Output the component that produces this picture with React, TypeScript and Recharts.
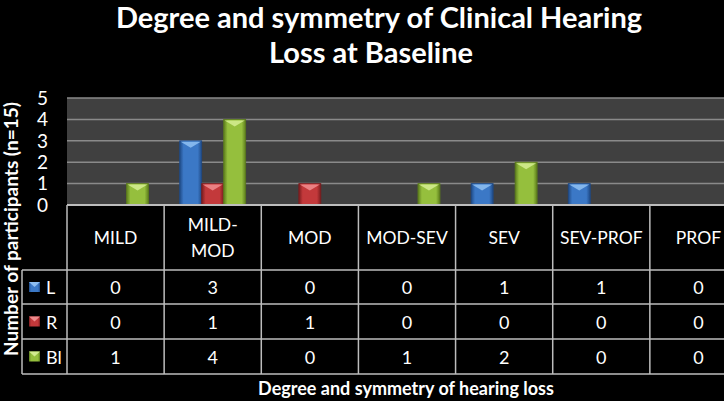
import { BarChart, Bar, XAxis, YAxis, CartesianGrid } from 'recharts';

// categories and table header lines
const categories = ['MILD', 'MILD-MOD', 'MOD', 'MOD-SEV', 'SEV', 'SEV-PROF', 'PROF'];
const headerLines = [['MILD'], ['MILD-', 'MOD'], ['MOD'], ['MOD-SEV'], ['SEV'], ['SEV-PROF'], ['PROF']];

// participants per category
const leftValues = [0, 3, 0, 0, 1, 1, 0];
const rightValues = [0, 1, 1, 0, 0, 0, 0];
const bilateralValues = [1, 4, 0, 1, 2, 0, 0];

const seriesKeys = ['L', 'R', 'Bl'];
const yTicks = [0, 1, 2, 3, 4, 5];

const data = categories.map((cat, i) => ({
  cat,
  L: leftValues[i],
  R: rightValues[i],
  Bl: bilateralValues[i],
}));

const rowValues: Record<string, number[]> = { L: leftValues, R: rightValues, Bl: bilateralValues };

const colors: Record<string, { base: string; light: string; dark: string }> = {
  L: { base: '#3b78c6', light: '#8cbcf0', dark: '#1f4a86' },
  R: { base: '#c3393b', light: '#ee8a8c', dark: '#7a1c1e' },
  Bl: { base: '#95bf3d', light: '#d2eb8e', dark: '#5c7c1c' },
};

const FONT = 'Lato, "Open Sans", sans-serif';
const CHART_W = 747;
const CHART_H = 401;
const PLOT_LEFT = 67;
const PLOT_TOP = 98;
const AXIS_H = 196;
const BAND = (CHART_W - PLOT_LEFT) / categories.length;
const LINE = '#bdbdbd';
// table row boundaries (header bottom, then one row per series)
const rowLines = [270, 304, 339, 374];

function BevelBar(props: any) {
  const { x, y, width, height, k } = props;
  if (!height || height <= 0) return null;
  const c = colors[k];
  const bevel = Math.min(7, height / 2);
  return (
    <g>
      <rect x={x} y={y} width={width} height={height} fill={`url(#grad-${k})`} stroke={c.dark} strokeWidth={0.8} />
      <polygon
        points={`${x + 1},${y + 1} ${x + width - 1},${y + 1} ${x + width / 2},${y + bevel}`}
        fill={c.light}
        opacity={0.9}
      />
    </g>
  );
}

function TableTick(props: any) {
  const { x, y, payload } = props;
  const index = categories.indexOf(payload.value);
  const lines = headerLines[index];
  const left = x - BAND / 2;
  return (
    <g>
      <line x1={left} x2={left} y1={y} y2={rowLines[3]} stroke={LINE} strokeWidth={1.5} />
      <text textAnchor="middle" fill="#fff" fontSize={17.5} fontFamily={FONT}>
        {lines.length === 1 ? (
          <tspan x={x} y={y + 39}>{lines[0]}</tspan>
        ) : (
          lines.map((l, i) => (
            <tspan key={l} x={x} y={y + 26 + i * 26}>{l}</tspan>
          ))
        )}
      </text>
      {seriesKeys.map((k, ri) => (
        <text
          key={k}
          x={x}
          y={(rowLines[ri] + rowLines[ri + 1]) / 2 + 7}
          textAnchor="middle"
          fill="#fff"
          fontSize={18}
          fontFamily={FONT}
        >
          {rowValues[k][index]}
        </text>
      ))}
    </g>
  );
}

export default function App() {
  return (
    <div style={{ position: 'absolute', left: 0, top: 0, width: 724, height: 401, background: '#000', overflow: 'hidden' }}>
      <BarChart
        width={CHART_W}
        height={CHART_H}
        data={data}
        margin={{ top: PLOT_TOP, right: 0, left: 0, bottom: 0 }}
        barGap={0}
        barCategoryGap="16%"
      >
        <CartesianGrid vertical={false} stroke="#8a8a8a" strokeWidth={1.5} fill="#404040" />
        <XAxis
          dataKey="cat"
          height={AXIS_H}
          tickLine={false}
          tickSize={0}
          tickMargin={0}
          interval={0}
          axisLine={{ stroke: LINE, strokeWidth: 2 }}
          tick={<TableTick />}
        />
        <YAxis
          width={PLOT_LEFT}
          domain={[0, 5]}
          ticks={yTicks}
          interval={0}
          axisLine={false}
          tickLine={false}
          tickSize={0}
          tickMargin={19}
          tick={{ fill: '#fff', fontSize: 19, fontFamily: FONT }}
        />
        {seriesKeys.map((k) => (
          <Bar key={k} dataKey={k} isAnimationActive={false} shape={(p: any) => <BevelBar {...p} k={k} />} />
        ))}
      </BarChart>
      <svg
        width={724}
        height={401}
        style={{ position: 'absolute', left: 0, top: 0, pointerEvents: 'none' }}
      >
        <defs>
          {seriesKeys.map((k) => (
            <linearGradient key={k} id={`grad-${k}`} x1="0" y1="0" x2="1" y2="0">
              <stop offset="0" stopColor={colors[k].dark} />
              <stop offset="0.18" stopColor={colors[k].base} />
              <stop offset="0.82" stopColor={colors[k].base} />
              <stop offset="1" stopColor={colors[k].dark} />
            </linearGradient>
          ))}
        </defs>
        <text x={379} y={28} textAnchor="middle" fill="#fff" fontSize={29} fontWeight="bold" fontFamily={FONT}>
          Degree and symmetry of Clinical Hearing
        </text>
        <text x={371} y={63} textAnchor="middle" fill="#fff" fontSize={29} fontWeight="bold" fontFamily={FONT}>
          Loss at Baseline
        </text>
        <text
          transform="translate(18,229) rotate(-90)"
          textAnchor="middle"
          fill="#fff"
          fontSize={19}
          fontWeight="bold"
          fontFamily={FONT}
        >
          Number of participants (n=15)
        </text>
        <text x={406} y={395} textAnchor="middle" fill="#fff" fontSize={18} fontWeight="bold" fontFamily={FONT}>
          Degree and symmetry of hearing loss
        </text>
        {/* legend column of the data table */}
        {rowLines.map((y) => (
          <line key={y} x1={22} x2={724} y1={y} y2={y} stroke={LINE} strokeWidth={1.5} />
        ))}
        <line x1={22} x2={22} y1={rowLines[0]} y2={rowLines[3]} stroke={LINE} strokeWidth={1.5} />
        {seriesKeys.map((k, ri) => {
          const cy = (rowLines[ri] + rowLines[ri + 1]) / 2;
          return (
            <g key={k}>
              <rect x={29} y={cy - 5} width={11} height={10} fill={`url(#grad-${k})`} />
              <polygon points={`29,${cy - 5} 40,${cy - 5} 34.5,${cy}`} fill={colors[k].light} />
              <text x={46} y={cy + 7} fill="#fff" fontSize={18} fontFamily={FONT}>
                {k}
              </text>
            </g>
          );
        })}
      </svg>
    </div>
  );
}
